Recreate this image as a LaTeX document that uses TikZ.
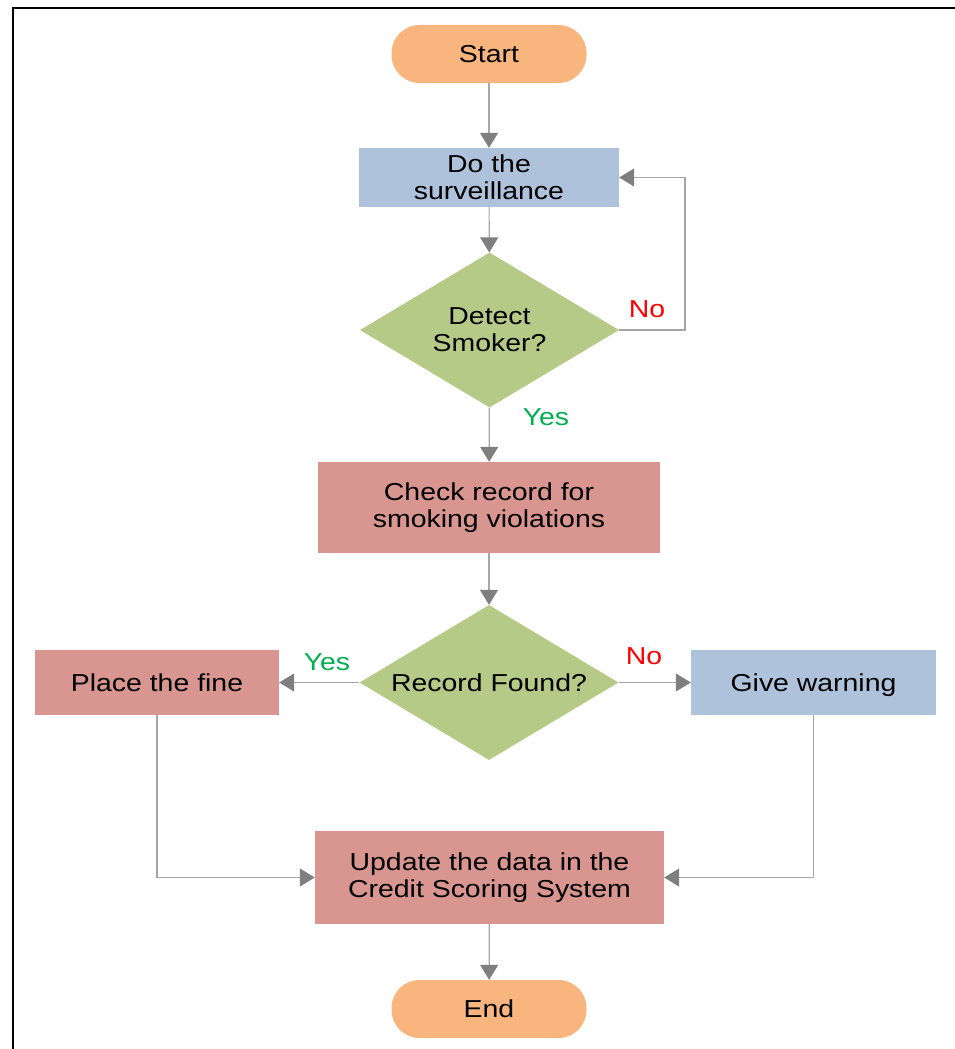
\documentclass[tikz,border=0pt]{standalone}
\usepackage{fontspec}
\setmainfont{Liberation Sans}[FakeStretch=1.16]
\usepackage{tikz}
\usetikzlibrary{arrows.meta,positioning,shapes.geometric}
\definecolor{termorange}{HTML}{F8B57E}
\definecolor{procblue}{HTML}{AFC2DC}
\definecolor{procred}{HTML}{D9958F}
\definecolor{decgreen}{HTML}{B6CA87}
\definecolor{linegray}{HTML}{A6A6A6}
\definecolor{tipgray}{HTML}{7F7F7F}
\definecolor{yesgreen}{HTML}{00B050}
\definecolor{nored}{HTML}{FF0000}

\begin{document}
\begin{tikzpicture}[
x=1pt,y=-1pt,
font=\fontsize{24.5}{27}\selectfont,
terminal/.style={rectangle,rounded corners=28pt,fill=termorange,minimum width=195pt,minimum height=58pt},
procbox/.style={rectangle,fill=#1,align=center,inner sep=0pt},
decision/.style={diamond,aspect=1.67,fill=decgreen,align=center,inner sep=0pt,minimum width=259pt,minimum height=155pt},
flow/.style={-{Triangle[length=15pt,width=18pt,color=tipgray]},draw=linegray,line width=1.2pt},
yeslbl/.style={text=yesgreen},
nolbl/.style={text=nored}]
    % Frame and page size
    \useasboundingbox (0,0) rectangle (954,1049);
    \draw[line width=2.5pt] (13,1060) -- (13,8) -- (960,8);

    % Nodes
    \node[terminal] (start) at (489,54) {Start};
    \node[procbox=procblue,minimum width=260pt,minimum height=59pt] (surv) at (489,177.5) {Do the\\surveillance};
    \node[decision] (detect) at (489.5,330) {Detect\\Smoker?};
    \node[procbox=procred,minimum width=342pt,minimum height=91pt] (check) at (489,507.5) {Check record for\\smoking violations};
    \node[decision] (found) at (489,682.5) {Record Found?};
    \node[procbox=procred,minimum width=244pt,minimum height=65pt] (fine) at (157,682.5) {Place the fine};
    \node[procbox=procblue,minimum width=245pt,minimum height=65pt,text depth=0pt] (warn) at (813.5,682.5) {Give warning};
    \node[procbox=procred,minimum width=349pt,minimum height=93pt] (update) at (489.5,877.5) {Update the data in the\\Credit Scoring System};
    \node[terminal] (end) at (489,1009) {End};
    \coordinate (loop) at (685,177.5);

    % Connectors
    \draw[flow] (start) -- (surv);
    \draw[flow] (surv) -- (detect);
    \draw[flow] (detect.east) -| (loop) -- (surv.east);
    \draw[flow] (detect) -- (check);
    \draw[flow] (check) -- (found);
    \draw[flow] (found.west) -- (fine.east);
    \draw[flow] (found.east) -- (warn.west);
    \draw[flow] (fine.south) |- (update.west);
    \draw[flow] (warn.south) |- (update.east);
    \draw[flow] (update) -- (end);

    % Labels
    \node[nolbl] (nodetect) at (647,309) {No};
    \node[yeslbl] (yesdetect) at (546,417) {Yes};
    \node[yeslbl] (yesfound) at (327,662) {Yes};
    \node[nolbl] (nofound) at (644,656) {No};
\end{tikzpicture}
\end{document}
